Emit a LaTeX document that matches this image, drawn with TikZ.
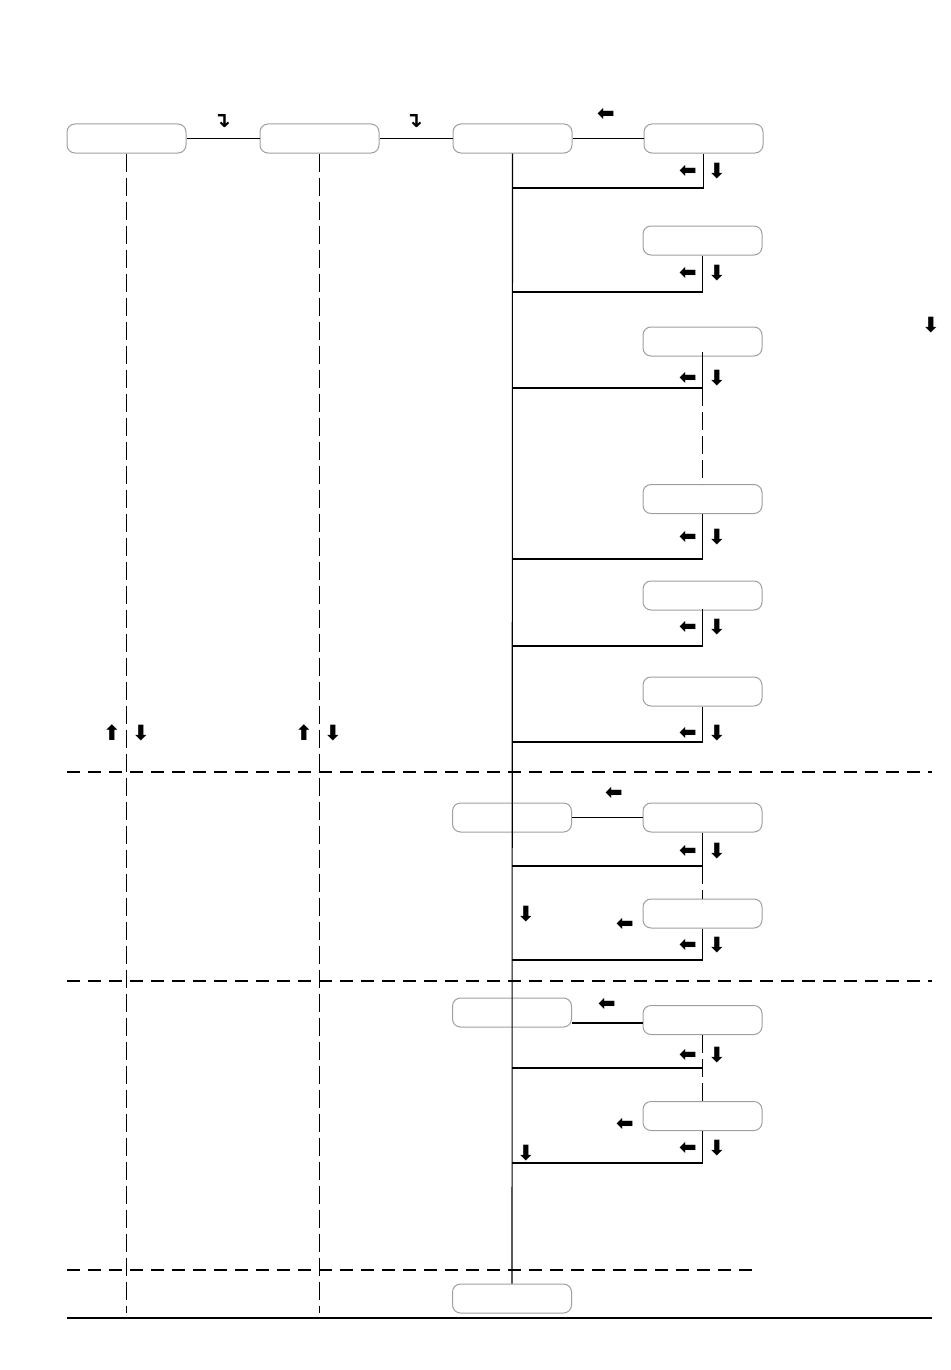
\documentclass[tikz,border=0pt]{standalone}
\usepackage{fontspec}
\newfontfamily\symfont{DejaVu Sans}
\usetikzlibrary{positioning}

\begin{document}
\begin{tikzpicture}[x=0.5pt,y=-0.5pt,
				box/.style={draw=gray!75,rounded corners=4pt,minimum width=59.5pt,minimum height=14.5pt,inner sep=0pt,line width=0.5pt},
				sym/.style={font=\symfont\bfseries\fontsize{10.5}{10.5}\selectfont,inner sep=0pt},
				link/.style={line width=0.55pt},
				vdash/.style={link,dash pattern=on 9pt off 3pt},
				hdash/.style={link,dash pattern=on 6.5pt off 4pt}]
				\useasboundingbox (0,0) rectangle (950,1370);
				% top row
				\node[box] (B1)                       at (126.5,138.5) {};
				\node[box] (B2)  [right=36.5pt of B1] {};
				\node[box] (B3)  [right=36.5pt of B2] {};
				\node[box] (B4)  [right=35.5pt of B3] {};
				% right column
				\node[box] (B5)  at (702.5,240.5)  {};
				\node[box] (B6)  at (702.5,341.5)  {};
				\node[box] (B7)  at (702.5,499)    {};
				\node[box] (B8)  at (702.5,595.5)  {};
				\node[box] (B9)  at (702.5,691.5)  {};
				\node[box] (B10) at (512,817.5)    {};
				\node[box] (B11) at (702.5,817.5)  {};
				\node[box] (B12) at (702.5,913.5)  {};
				\node[box] (B13) at (512,1012.5)   {};
				\node[box] (B14) at (702.5,1020)   {};
				\node[box] (B15) at (702.5,1116)   {};
				\node[box] (B16) at (512,1298.5)   {};

				% junctions on the trunk
				\coordinate (J1) at (512,188);
				\coordinate (J2) at (512,292);
				\coordinate (J3) at (512,388);
				\coordinate (J4) at (512,559);
				\coordinate (J5) at (512,646);
				\coordinate (J6) at (512,742);
				\coordinate (J7) at (512,866);
				\coordinate (J8) at (512,960);
				\coordinate (J9) at (512,1068);
				\coordinate (J10) at (512,1163);
				\coordinate (FOOT) at (0,1313);

				\draw[link] (B1) -- (B2);
				\draw[link] (B2) -- (B3);
				\draw[link] (B3) -- (B4);
				\draw[link] (B10) -- (B11);
				\draw[link] (B13.east |- 0,1023) -- (B14.west |- 0,1023);
				\draw[link] (B3.south) -- (B16.north);

				\draw[link] (B4.south) |- (J1);
				\draw[link] (B5.south) |- (J2);
				\draw[link] ([yshift=2.5pt]B6.south) |- (J3);
				\draw[vdash] (B6.south |- J3) -- (B7.north);
				\draw[link] (B7.south) |- (J4);
				\draw[link] ([yshift=1pt]B8.south) |- (J5);
				\draw[link] (B9.south) |- (J6);
				\draw[link] (B11.south) |- (J7);
				\draw[vdash] (B11.south |- J7) -- (B12.north);
				\draw[link] (B12.south) |- (J8);
				\draw[vdash] (B14.south) -- (B15.north);
				\draw[link] (B14.south |- J9) -- (J9);
				\draw[link] (B15.south) |- (J10);

				% life lines and separators
				\draw[vdash] (B1.south) -- (B1.south |- FOOT);
				\draw[vdash] (B2.south) -- (B2.south |- FOOT);
				\draw[hdash] (67,772) -- (932,772);
				\draw[hdash] (67,981) -- (932,981);
				\draw[hdash] (67,1270) -- (757,1270);
				\draw[link] (67,1318) -- (932,1318);

				% arrow marks
				\foreach \y [count=\i] in {171,273,378,537,627,733,851,945,1055,1148} {
					\node[sym] (L\i) at (688,\y) {⬅};
					\node[sym] (D\i) at (717,\y) {⬇};
				}
				\node[sym] (T1) at (222,121) {↴};
				\node[sym] (T2) at (414,121) {↴};
				\node[sym] (A1) at (606,114) {⬅};
				\node[sym] (A2) at (614,793) {⬅};
				\node[sym] (A3) at (625,924) {⬅};
				\node[sym] (A4) at (607,1004) {⬅};
				\node[sym] (A5) at (625,1124) {⬅};
				\node[sym] (E1) at (931,325) {⬇};
				\node[sym] (E2) at (526,914) {⬇};
				\node[sym] (E3) at (526,1153) {⬇};
				\node[sym] (U1) at (112,733) {⬆};
				\node[sym] (U2) at (141,733) {⬇};
				\node[sym] (U3) at (304,733) {⬆};
				\node[sym] (U4) at (333,733) {⬇};
			\end{tikzpicture}
\end{document}
